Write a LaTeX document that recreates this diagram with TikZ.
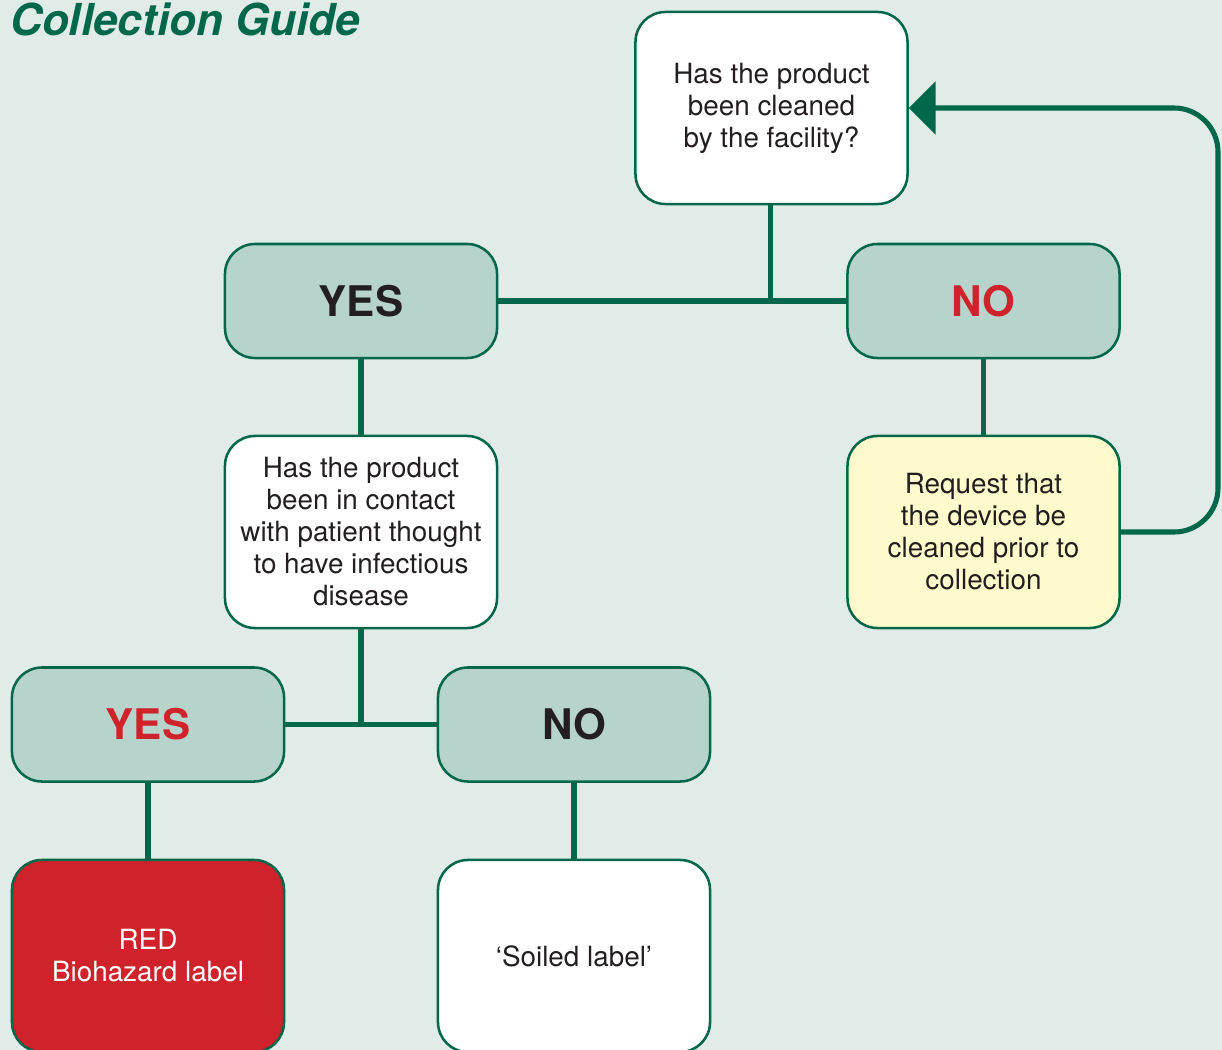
\documentclass[tikz,border=0pt]{standalone}
\usepackage{fontspec}
\setmainfont{TeX Gyre Heros}
\usepackage{tikz}
\usetikzlibrary{arrows.meta, positioning}
\usepackage{xcolor}
\definecolor{guidegreen}{RGB}{0, 104, 74}
\definecolor{guidebg}{RGB}{225, 236, 232}
\definecolor{answerfill}{RGB}{183, 212, 204}
\definecolor{alertred}{RGB}{208, 34, 42}
\definecolor{notefill}{RGB}{255, 251, 204}
\definecolor{inkdark}{RGB}{35, 31, 32}
\newcommand{\bodyfont}{\fontsize{19.8}{22.75}\selectfont}

\begin{document}
\begin{tikzpicture}[
    x=0.025cm, y=-0.025cm,
    box/.style={draw=guidegreen, line width=1.8pt, rounded corners=0.75cm,
                minimum width=6.8cm, inner sep=0pt, align=center,
                text=inkdark, font=\bodyfont},
    question/.style={box, fill=white, minimum height=4.8cm},
    answer/.style={box, fill=answerfill, minimum height=2.85cm,
                   font=\fontsize{30}{36}\selectfont\bfseries},
    link/.style={guidegreen, line width=3.6pt},
    back/.style={link, -{Triangle[length=19pt, width=37pt]},
                 rounded corners=1.1cm},
  ]
    % Page
    \useasboundingbox (0,0) rectangle (1222,1050);
    \fill[guidebg] (0,0) rectangle (1222,1050);
    \clip (0,0) rectangle (1222,1050);

    \node[anchor=base west, inner sep=0pt, text=guidegreen,
          font=\fontsize{31.3}{36}\selectfont\bfseries\itshape]
      (title) at (10,36) {Collection Guide};

    % Level 1: cleaned?
    \node[question] (q1) at (771.5,108)
      {Has the product\\been cleaned\\by the facility?};
    \node[answer] (yes1) at (361,301) {YES};
    \node[answer, text=alertred] (no1) at (983.5,301) {NO};
    \node[question, fill=notefill] (req) at (983.5,532)
      {Request that\\the device be\\cleaned prior to\\collection};

    % Level 2: infectious?
    \node[question] (q2) at (361,532)
      {Has the product\\been in contact\\with patient thought\\to have infectious\\disease};
    \node[answer, text=alertred] (yes2) at (148,724.5) {YES};
    \node[answer] (no2) at (574,724.5) {NO};

    % Level 3: labels
    \node[question, fill=alertred, text=white] (bio) at (148,956)
      {RED\\Biohazard label};
    \node[question] (soil) at (574,956) {‘Soiled label’};

    % Connectors
    \draw[link] (yes1.east) -- (no1.west);
    \draw[link] ([xshift=-1pt]q1.south) -- ([xshift=-1pt]q1.south |- yes1.east);
    \draw[link] (yes1.south) -- (q2.north);
    \draw[link] (no1.south) -- (req.north);
    \draw[link] (yes2.east) -- (no2.west);
    \draw[link] (q2.south) -- (q2.south |- yes2.east);
    \draw[link] (yes2.south) -- (bio.north);
    \draw[link] (no2.south) -- (soil.north);

    % Loop back after cleaning
    \coordinate (turn) at (1218,532);
    \draw[back] (req.east) -- (turn) |- (q1.east);
\end{tikzpicture}
\end{document}
